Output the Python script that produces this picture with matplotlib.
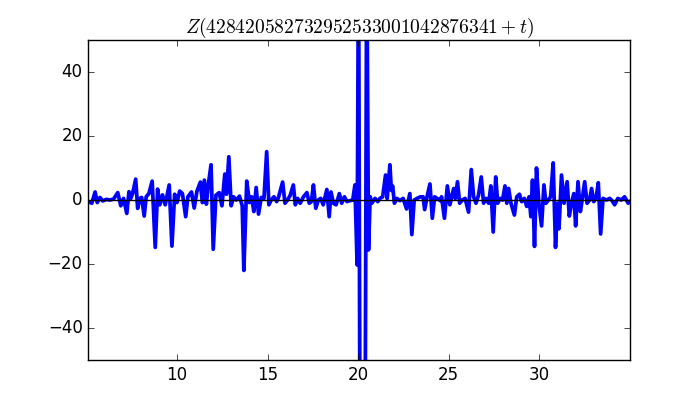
import matplotlib
matplotlib.use("Agg")
import matplotlib.pyplot as plt

# values
t_vals = [5.1, 5.3, 5.48, 5.6, 5.75, 5.9, 6.1, 6.3, 6.5, 6.73, 6.9, 7.05, 7.23, 7.35, 7.45, 7.55,
          7.72, 7.83, 7.95, 8.05, 8.19, 8.3, 8.45, 8.63, 8.8, 8.93, 9.05, 9.2, 9.35, 9.57, 9.72,
          9.87, 10.0, 10.15, 10.3, 10.48, 10.6, 10.8, 10.95, 11.1, 11.29, 11.4, 11.51, 11.62,
          11.73, 11.88, 12.0, 12.15, 12.33, 12.48, 12.64, 12.73, 12.86, 12.99, 13.12, 13.27,
          13.45, 13.6, 13.69, 13.85, 14.0, 14.12, 14.24, 14.37, 14.5, 14.65, 14.8, 14.95, 15.07,
          15.2, 15.35, 15.5, 15.6, 15.83, 15.96, 16.1, 16.25, 16.42, 16.53, 16.66, 16.8, 16.98,
          17.17, 17.3, 17.42, 17.53, 17.66, 17.8, 17.93, 18.07, 18.27, 18.4, 18.5, 18.63, 18.78,
          18.96, 19.09, 19.24, 19.38, 19.55, 19.7, 19.82, 19.94, 20.02, 20.1, 20.38, 20.47,
          20.57, 20.66, 20.75, 20.93, 21.08, 21.2, 21.35, 21.51, 21.6, 21.75, 21.83, 21.9, 22.0,
          22.13, 22.3, 22.48, 22.67, 22.85, 22.96, 23.09, 23.25, 23.43, 23.58, 23.67, 23.8,
          23.96, 24.09, 24.22, 24.35, 24.53, 24.6, 24.76, 24.92, 25.06, 25.27, 25.36, 25.48,
          25.6, 25.75, 25.9, 26.09, 26.24, 26.37, 26.5, 26.64, 26.79, 26.92, 27.05, 27.2, 27.32,
          27.45, 27.59, 27.7, 27.83, 27.97, 28.1, 28.2, 28.3, 28.43, 28.62, 28.75, 28.9, 29.02,
          29.17, 29.3, 29.43, 29.53, 29.62, 29.73, 29.84, 29.97, 30.12, 30.25, 30.36, 30.5,
          30.62, 30.76, 30.89, 31.0, 31.08, 31.22, 31.36, 31.53, 31.65, 31.77, 31.9, 32.0, 32.13,
          32.26, 32.37, 32.5, 32.63, 32.77, 32.88, 33.0, 33.14, 33.25, 33.38, 33.51, 33.7, 33.88,
          34.01, 34.15, 34.33, 34.52, 34.7, 34.9, 35.0]
z_vals = [-0.5, -1.0, 2.5, -0.8, 0.8, -0.3, 0.2, 0.0, 0.3, 2.3, -1.8, 0.5, -4.2, 2.6, 0.5, 2.0,
          6.5, -2.6, 0.5, 0.8, -5.0, 1.0, 2.0, 5.9, -14.8, 3.4, -1.5, 1.6, -1.5, 4.7, -14.4,
          1.8, -0.8, 2.8, 2.0, -5.2, 1.0, 2.5, -2.5, 2.7, 5.6, -0.8, 6.2, -1.3,
          4.9, 11.0, -15.4, 1.5, 2.3, -1.8, 8.1, 1.8, 13.5, -1.8, 1.0, 0.0,
          1.2, -1.8, -22.0, 5.9, -0.8, 1.0, -3.6, 3.9, -4.4, 0.8, 0.5, 15.1, -1.5,
          0.0, 1.0, -0.5, 0.8, 5.6, -1.0, 0.0, 1.5, 4.7, -1.5, 0.5, -1.0, 1.0,
          2.3, -1.0, -0.5, 4.7, -2.6, 0.0, 0.5, -1.5, 3.3, -5.2, 2.5, -1.0, -1.5,
          2.0, -1.0, 1.0, -0.5, -0.2, 0.0, 4.7, -20.3, 80.0, -80.0, -80.0, 80.0,
          -15.6, 1.0, -1.0, 0.5, -0.5, 0.5, 1.0, 7.8, 0.5, 11.0, 3.0, 4.4, -1.0,
          0.5, -0.2, 0.5, -2.8, 2.0, -10.8, 0.0, 0.5, 1.0, 1.0, -3.0, 1.0,
          5.0, -5.7, 1.0, 0.5, -0.2, 1.0, -5.7, 4.4, -1.5, 3.6, 0.5, 5.7,
          -1.0, 0.0, 0.5, -3.8, 9.5, 1.0, -1.0, 1.5, 7.2, -1.0, 0.5, -1.0, 4.4,
          -10.0, 7.2, -1.0, 0.5, 0.0, 4.4, -1.0, 3.6, -1.0, -4.7, 1.0, 1.8, -0.5,
          0.5, -2.0, 1.0, -5.2, 6.2, -14.5, 10.0, -1.0, -8.1, 4.7, -1.0, 0.0,
          1.0, 11.6, -14.8, -1.0, -9.0, 7.8, -1.0, 5.7, -5.0, -1.0, 2.0, -8.1, 5.7,
          -3.6, 0.5, 5.7, -1.0, 0.0, 3.6, -0.5, 1.0, 5.4, -10.6, 0.5, 0.0, 0.5,
          -0.2, -1.5, 0.5, 0.0, 1.0, -1.0, -0.5]

y_ticks = [-40, -20, 0, 20, 40]
x_ticks = [10, 15, 20, 25, 30]
title_text = r"$Z(428420582732952533001042876341+t)$"

plt.style.use("classic")
plt.rcParams["mathtext.fontset"] = "cm"

fig = plt.figure(figsize=(7, 4), dpi=100)
fig.patch.set_facecolor("white")
ax = fig.add_subplot(1, 1, 1)
fig.subplots_adjust(left=0.126, right=0.9, bottom=0.1, top=0.9)

ax.plot(t_vals, z_vals, color="blue", lw=2.7)
ax.axhline(0, color="black", lw=1)

ax.set_xlim(5.1, 35.0)
ax.set_ylim(-50, 50)
ax.set_xticks(x_ticks)
ax.set_yticks(y_ticks)
ax.set_title(title_text, fontsize=14)

fig.savefig("out.png", dpi=100, facecolor="white")
